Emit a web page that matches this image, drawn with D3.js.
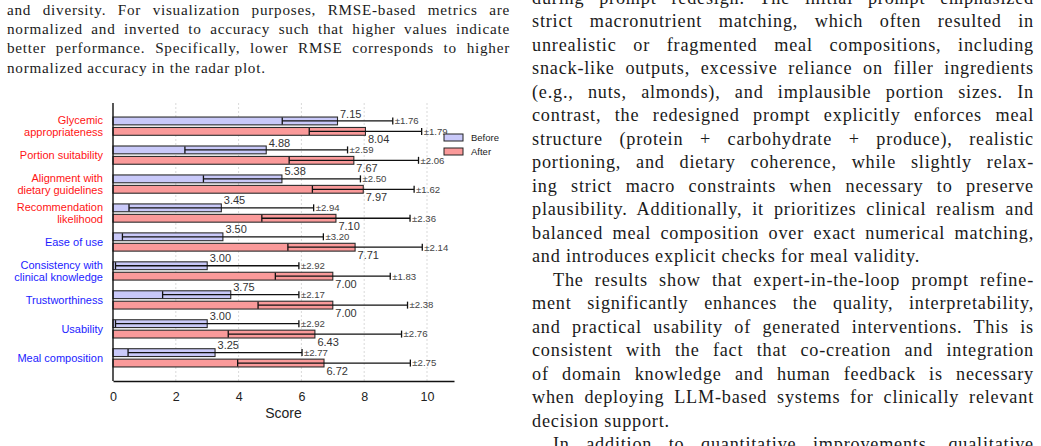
<!DOCTYPE html>
<html>
<head>
<meta charset="utf-8">
<script src="https://cdn.jsdelivr.net/npm/d3@7"></script>
<style>
  body { margin: 0; background: #fff; }
  svg { display: block; }
</style>
</head>
<body>
<svg id="page" width="1041" height="446"></svg>
<script>
// ---- chart data ----
const categories = [
  "Glycemic\nappropriateness",
  "Portion suitability",
  "Alignment with\ndietary guidelines",
  "Recommendation\nlikelihood",
  "Ease of use",
  "Consistency with\nclinical knowledge",
  "Trustworthiness",
  "Usability",
  "Meal composition"
];
const categoryGroup = ["nutrition", "nutrition", "nutrition", "nutrition", "user", "user", "user", "user", "user"];
const beforeMean = [7.15, 4.88, 5.38, 3.45, 3.50, 3.00, 3.75, 3.00, 3.25];
const beforeSd   = [1.76, 2.59, 2.50, 2.94, 3.20, 2.92, 2.17, 2.92, 2.77];
const afterMean  = [8.04, 7.67, 7.97, 7.10, 7.71, 7.00, 7.00, 6.43, 6.72];
const afterSd    = [1.79, 2.06, 1.62, 2.36, 2.14, 1.83, 2.38, 2.76, 2.75];
const seriesNames = ["Before", "After"];
const xTicks = [0, 2, 4, 6, 8, 10];
const xMax = 10.86;

// ---- surrounding page text ----
const leftLines = [
  "and diversity. For visualization purposes, RMSE-based metrics are",
  "normalized and inverted to accuracy such that higher values indicate",
  "better performance. Specifically, lower RMSE corresponds to higher",
  "normalized accuracy in the radar plot."
];
const leftEnds = [3]; // last line of paragraph, not justified

const rightLines = [
  "during prompt redesign. The initial prompt emphasized",
  "strict macronutrient matching, which often resulted in",
  "unrealistic or fragmented meal compositions, including",
  "snack-like outputs, excessive reliance on filler ingredients",
  "(e.g., nuts, almonds), and implausible portion sizes. In",
  "contrast, the redesigned prompt explicitly enforces meal",
  "structure (protein + carbohydrate + produce), realistic",
  "portioning, and dietary coherence, while slightly relax-",
  "ing strict macro constraints when necessary to preserve",
  "plausibility. Additionally, it prioritizes clinical realism and",
  "balanced meal composition over exact numerical matching,",
  "and introduces explicit checks for meal validity.",
  "The results show that expert-in-the-loop prompt refine-",
  "ment significantly enhances the quality, interpretability,",
  "and practical usability of generated interventions. This is",
  "consistent with the fact that co-creation and integration",
  "of domain knowledge and human feedback is necessary",
  "when deploying LLM-based systems for clinically relevant",
  "decision support.",
  "In addition to quantitative improvements, qualitative"
];
const rightEnds = [11, 18];
const rightStarts = [12, 19]; // indented paragraph starts

const svg = d3.select("#page");
svg.append("rect").attr("width", 1041).attr("height", 446).attr("fill", "#fff");

// 两栏正文：逐行两端对齐
function drawColumn(lines, ends, starts, opt) {
  const g = svg.append("g")
    .attr("font-family", "'Liberation Serif', 'Times New Roman', serif")
    .attr("font-size", opt.size)
    .attr("letter-spacing", opt.ls)
    .attr("fill", "#1a1a1a");
  lines.forEach((line, i) => {
    const indent = starts.includes(i) ? opt.indent : 0;
    const t = g.append("text")
      .attr("x", opt.x + indent)
      .attr("y", opt.y0 + i * opt.lh)
      .text(line);
    if (!ends.includes(i)) {
      const spaces = (line.match(/ /g) || []).length;
      const w = t.node().getComputedTextLength();
      const target = opt.width - indent;
      if (spaces > 0) t.attr("word-spacing", (target - w) / spaces);
    }
  });
}
drawColumn(leftLines, leftEnds, [], { x: 7, y0: 15, lh: 19.2, size: 15.2, ls: 0.75, width: 503, indent: 0 });
drawColumn(rightLines, rightEnds, rightStarts, { x: 532, y0: 3.5, lh: 23.5, size: 18.2, ls: 0.8, width: 502, indent: 21 });

// ---- chart ----
const plot = { left: 113, right: 454, top: 103, bottom: 381 };
const x = d3.scaleLinear().domain([0, xMax]).range([plot.left, plot.right]);
const y = d3.scaleLinear().domain([-0.8, categories.length - 0.2]).range([plot.top, plot.bottom]);
const barH = y(0.27) - y(0);
const off = 0.18;
const fills = { Before: "#c9c9f9", After: "#fa9a9a" };
const groupColors = { nutrition: "#ff1414", user: "#1c1cff" };

const chart = svg.append("g").attr("font-family", "'Liberation Sans', Arial, sans-serif");

// grid
chart.append("g").selectAll("line")
  .data(xTicks.filter(d => d > 0))
  .join("line")
  .attr("x1", d => x(d)).attr("x2", d => x(d))
  .attr("y1", plot.top).attr("y2", plot.bottom)
  .attr("stroke", "#cfcfcf")
  .attr("stroke-width", 0.8)
  .attr("stroke-dasharray", "2,2");

// rows: one record per bar
const rows = [];
categories.forEach((c, i) => {
  rows.push({ i, series: "Before", mean: beforeMean[i], sd: beforeSd[i], cy: y(i - off) });
  rows.push({ i, series: "After", mean: afterMean[i], sd: afterSd[i], cy: y(i + off) });
});

chart.append("g").selectAll("rect")
  .data(rows)
  .join("rect")
  .attr("x", x(0))
  .attr("y", d => d.cy - barH / 2)
  .attr("width", d => x(d.mean) - x(0))
  .attr("height", barH)
  .attr("fill", d => fills[d.series])
  .attr("stroke", "#2b2b2b")
  .attr("stroke-width", 1.1);

// error bars
const eb = chart.append("g").attr("stroke", "#111").attr("stroke-width", 1.3);
rows.forEach(d => {
  const x0 = x(d.mean - d.sd), x1 = x(d.mean + d.sd);
  eb.append("line").attr("x1", x0).attr("x2", x1).attr("y1", d.cy).attr("y2", d.cy);
  [x0, x1].forEach(xc => {
    eb.append("line").attr("x1", xc).attr("x2", xc).attr("y1", d.cy - 3.5).attr("y2", d.cy + 3.5);
  });
});

// mean labels
chart.append("g").selectAll("text")
  .data(rows)
  .join("text")
  .attr("x", d => x(d.mean) + 2.5)
  .attr("y", d => d.series === "Before" ? d.cy - barH / 2 + 0.5 : d.cy + barH / 2 + 8)
  .attr("font-size", 11)
  .attr("fill", "#333")
  .text(d => d.mean.toFixed(2));

// sd labels
chart.append("g").selectAll("text")
  .data(rows)
  .join("text")
  .attr("x", d => x(d.mean + d.sd) + 2)
  .attr("y", d => d.cy)
  .attr("dy", "0.35em")
  .attr("font-size", 9.6)
  .attr("fill", "#444")
  .text(d => "±" + d.sd.toFixed(2));

// category labels
const catG = chart.append("g").attr("font-size", 11).attr("text-anchor", "end");
categories.forEach((c, i) => {
  const parts = c.split("\n");
  const t = catG.append("text")
    .attr("x", plot.left - 10)
    .attr("y", y(i))
    .attr("fill", groupColors[categoryGroup[i]]);
  parts.forEach((p, k) => {
    t.append("tspan")
      .attr("x", plot.left - 10)
      .attr("y", y(i) + (k - (parts.length - 1) / 2) * 12)
      .attr("dy", "0.35em")
      .text(p);
  });
});

// axes
const xAxis = d3.axisBottom(x).tickValues(xTicks).tickSize(0).tickSizeOuter(0).tickPadding(11);
chart.append("g")
  .attr("transform", `translate(0,${plot.bottom})`)
  .call(xAxis)
  .call(g => {
    g.select(".domain").attr("stroke", "#111").attr("stroke-width", 1.4);
    g.selectAll(".tick text").attr("font-size", 12.5).attr("fill", "#222")
      .attr("font-family", "'Liberation Sans', Arial, sans-serif");
  });
chart.append("line")
  .attr("x1", plot.left).attr("x2", plot.left)
  .attr("y1", plot.top).attr("y2", plot.bottom)
  .attr("stroke", "#111").attr("stroke-width", 1.4);

chart.append("text")
  .attr("x", (plot.left + plot.right) / 2)
  .attr("y", 418)
  .attr("text-anchor", "middle")
  .attr("font-size", 14)
  .attr("fill", "#222")
  .text("Score");

// legend
const leg = chart.append("g").attr("transform", "translate(444,134)");
seriesNames.forEach((s, k) => {
  leg.append("rect")
    .attr("x", 0).attr("y", k * 14)
    .attr("width", 19).attr("height", 7)
    .attr("fill", fills[s]).attr("stroke", "#222").attr("stroke-width", 1);
  leg.append("text")
    .attr("x", 27).attr("y", k * 14 + 3.5)
    .attr("dy", "0.35em")
    .attr("font-size", 9.5)
    .attr("fill", "#222")
    .text(s);
});
</script>
</body>
</html>
